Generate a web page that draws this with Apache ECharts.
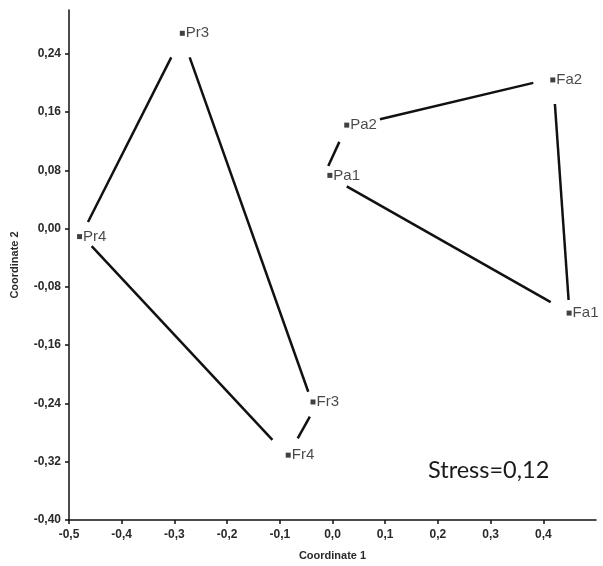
<!DOCTYPE html>
<html>
<head>
<meta charset="utf-8">
<script src="https://cdn.jsdelivr.net/npm/echarts@6/dist/echarts.min.js"></script>
<style>
  html, body { margin: 0; padding: 0; background: #fff; }
  #chart { width: 603px; height: 566px; }
</style>
</head>
<body>
<div id="chart"></div>
<script>
// NMDS ordination of sample sites (Coordinate 1 vs Coordinate 2)
const siteNames = ['Pr3', 'Pr4', 'Pa2', 'Pa1', 'Fa2', 'Fa1', 'Fr3', 'Fr4'];
const coord1 = [-0.285, -0.480, 0.027, -0.005, 0.418, 0.449, -0.037, -0.084];
const coord2 = [0.268, -0.011, 0.142, 0.073, 0.204, -0.116, -0.238, -0.311];

// Hull outline segments (start x, start y, end x, end y) in ordination units
const hullX1 = [-0.464, -0.271, -0.457, -0.066, -0.008, 0.090, 0.422, 0.027];
const hullY1 = [0.009, 0.235, -0.024, -0.288, 0.086, 0.150, 0.171, 0.058];
const hullX2 = [-0.306, -0.046, -0.114, -0.043, 0.013, 0.381, 0.448, 0.414];
const hullY2 = [0.235, -0.224, -0.290, -0.258, 0.119, 0.200, -0.098, -0.101];

// Axis ticks
const xTicks = [-0.5, -0.4, -0.3, -0.2, -0.1, 0.0, 0.1, 0.2, 0.3, 0.4];
const yTicks = [-0.40, -0.32, -0.24, -0.16, -0.08, 0.00, 0.08, 0.16, 0.24];

const stressText = 'Stress=0,12';

const fmt = (v, d) => {
  let s = Number(v).toFixed(d);
  if (/^-0[.,]0+$/.test(s)) s = s.slice(1);
  return s.replace('.', ',');
};

const points = siteNames.map((n, i) => ({ name: n, value: [coord1[i], coord2[i]] }));
const segments = hullX1.map((x, i) => ({ coords: [[x, hullY1[i]], [hullX2[i], hullY2[i]]] }));

const axisFont = {
  fontFamily: 'Liberation Sans, Arial, sans-serif',
  fontSize: 12,
  fontWeight: 'bold',
  color: '#2a2a2a'
};

const chart = echarts.init(document.getElementById('chart'), null, { renderer: 'canvas' });
chart.setOption({
  backgroundColor: '#fff',
  animation: false,
  grid: { left: 69, right: 7, top: 10, bottom: 44 },
  xAxis: {
    type: 'value',
    min: -0.5,
    max: 0.5,
    name: 'Coordinate 1',
    nameLocation: 'middle',
    nameGap: 30,
    nameTextStyle: { ...axisFont, fontSize: 11 },
    axisLine: { onZero: false, lineStyle: { color: '#111', width: 1.5 } },
    axisTick: { show: true, length: 4, customValues: xTicks, lineStyle: { color: '#111', width: 1.5 } },
    axisLabel: { customValues: xTicks, margin: 9, formatter: v => fmt(v, 1), ...axisFont },
    splitLine: { show: false }
  },
  yAxis: {
    type: 'value',
    min: -0.40,
    max: 0.30,
    name: 'Coordinate 2',
    nameLocation: 'middle',
    nameGap: 49,
    nameTextStyle: { ...axisFont, fontSize: 11 },
    axisLine: { onZero: false, lineStyle: { color: '#111', width: 1.5 } },
    axisTick: { show: true, length: 4, customValues: yTicks, lineStyle: { color: '#111', width: 1.5 } },
    axisLabel: { customValues: yTicks, margin: 8, formatter: v => fmt(v, 2), ...axisFont },
    splitLine: { show: false }
  },
  series: [
    {
      type: 'lines',
      coordinateSystem: 'cartesian2d',
      polyline: false,
      symbol: 'none',
      lineStyle: { color: '#111', width: 2.5, opacity: 1, cap: 'butt' },
      data: segments,
      silent: true,
      z: 2
    },
    {
      type: 'scatter',
      symbol: 'rect',
      symbolSize: 5,
      itemStyle: { color: '#111' },
      label: {
        show: true,
        position: 'right',
        distance: 1,
        formatter: p => p.name,
        fontFamily: 'Liberation Sans, Arial, sans-serif',
        fontSize: 15,
        color: '#1a1a1a'
      },
      data: points,
      z: 3
    }
  ],
  graphic: [
    {
      type: 'text',
      left: 428,
      top: 458,
      style: {
        text: stressText,
        font: '23.5px Lato, "Open Sans", sans-serif',
        fill: '#1a1a1a'
      }
    }
  ]
});
</script>
</body>
</html>
